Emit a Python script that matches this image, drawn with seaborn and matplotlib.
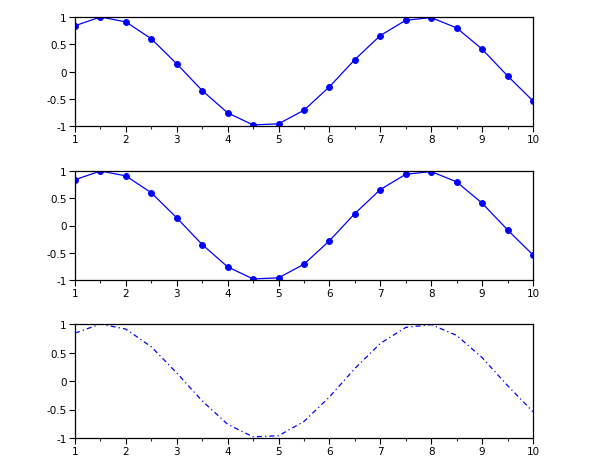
import matplotlib
matplotlib.use("Agg")
import matplotlib.pyplot as plt
import seaborn as sns
import pandas as pd
from matplotlib.ticker import MultipleLocator, FuncFormatter

sns.set_style("white")
plt.rcParams['font.family'] = ['DejaVu Sans']

x = [1.0, 1.5, 2.0, 2.5, 3.0, 3.5, 4.0, 4.5, 5.0, 5.5, 6.0, 6.5, 7.0, 7.5, 8.0, 8.5, 9.0, 9.5, 10.0]
y = [0.84, 1.00, 0.91, 0.60, 0.14, -0.35, -0.76, -0.98, -0.96, -0.71, -0.28, 0.22, 0.66, 0.94, 0.99, 0.80, 0.41, -0.08, -0.54]
xticks = [1, 2, 3, 4, 5, 6, 7, 8, 9, 10]
yticks = [-1, -0.5, 0, 0.5, 1]

df = pd.DataFrame({"x": x, "y": y})

fig = plt.figure(figsize=(6.1, 4.6), dpi=100)
rects = [
    [75/610, 1-127/460, 458/610, 109/460],
    [75/610, 1-281/460, 458/610, 109/460],
    [75/610, 1-439/460, 458/610, 114/460],
]

def fmt(v, pos):
    if abs(v - round(v)) < 1e-9:
        return "%d" % round(v)
    return ("%g" % v)

for i, r in enumerate(rects):
    ax = fig.add_axes(r)
    if i < 2:
        sns.lineplot(data=df, x="x", y="y", ax=ax, color="#0000ff", lw=0.9,
                     marker="o", markersize=4.2, markeredgecolor="#0000ff")
    else:
        sns.lineplot(data=df, x="x", y="y", ax=ax, color="#0000ff", lw=0.9,
                     linestyle=(0, (4, 2.5, 1, 2.5)))
    for ln in ax.lines:
        ln.set_clip_on(True)
    ax.set_xlim(1, 10)
    ax.set_ylim(-1, 1)
    ax.set_xticks(xticks)
    ax.set_yticks(yticks)
    ax.xaxis.set_minor_locator(MultipleLocator(0.5))
    ax.yaxis.set_major_formatter(FuncFormatter(fmt))
    ax.xaxis.set_major_formatter(FuncFormatter(fmt))
    ax.set_xlabel("")
    ax.set_ylabel("")
    for s in ax.spines.values():
        s.set_visible(True)
        s.set_color("black")
        s.set_linewidth(0.9)
    ax.tick_params(axis="both", which="major", direction="out", length=4,
                   width=0.8, labelsize=7.5, colors="black", pad=2,
                   bottom=True, left=True)
    ax.tick_params(axis="x", which="minor", direction="out", length=2.5,
                   width=0.8, bottom=True)
    ax.grid(False)

fig.savefig("out.png", dpi=100)
